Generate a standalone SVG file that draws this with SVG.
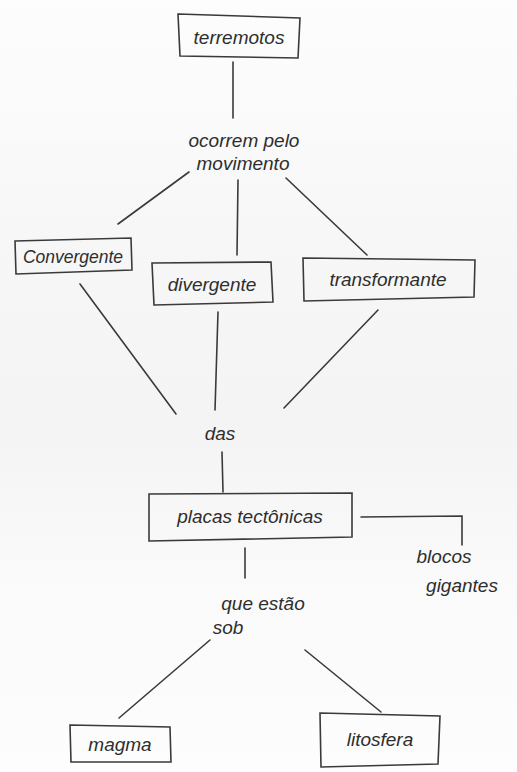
<svg xmlns="http://www.w3.org/2000/svg" width="517" height="772" viewBox="0 0 517 772">
<defs>
<linearGradient id="bg" x1="0" y1="0" x2="0" y2="1">
<stop offset="0" stop-color="#fdfdfd"/>
<stop offset="0.3" stop-color="#f7f7f7"/>
<stop offset="0.55" stop-color="#f4f4f4"/>
<stop offset="0.75" stop-color="#fafafa"/>
<stop offset="1" stop-color="#fdfdfd"/>
</linearGradient>
</defs>
<style>
.box{fill:none;stroke:#3a3a3a;stroke-width:1.6}
.ln{fill:none;stroke:#3a3a3a;stroke-width:1.6;stroke-linecap:round}
text{font-family:"Liberation Sans","DejaVu Sans",sans-serif;font-size:19px;fill:#2e2e2e;font-style:italic}
.t{text-anchor:middle}
</style>
<rect width="517" height="772" fill="url(#bg)"/>
<g id="connectors">
<path class="ln" d="M233 62 L233 118"/>
<path class="ln" d="M189 172 L118 224"/>
<path class="ln" d="M238 180 L237 255"/>
<path class="ln" d="M286 178 L367 255"/>
<path class="ln" d="M80 284 L176 414"/>
<path class="ln" d="M218 312 L215 410"/>
<path class="ln" d="M378 310 L284 408"/>
<path class="ln" d="M222 452 L223 492"/>
<path class="ln" d="M245 548 L245 578"/>
<path class="ln" d="M361 517 L462 516 L462 545"/>
<path class="ln" d="M210 640 L119 718"/>
<path class="ln" d="M305 650 L381 712"/>
</g>
<g id="terremotos">
<path class="box" d="M178 14 L300 18 L298 58 L180 56 Z"/>
<text class="t" x="239" y="44">terremotos</text>
</g>
<g id="ocorrem">
<text class="t" x="244" y="147">ocorrem pelo</text>
<text class="t" x="243" y="170">movimento</text>
</g>
<g id="convergente">
<path class="box" d="M15 241 L131 238 L132 270 L16 274 Z"/>
<text class="t" x="73" y="263" style="font-size:17.5px">Convergente</text>
</g>
<g id="divergente">
<path class="box" d="M152 263 L271 262 L273 302 L154 305 Z"/>
<text class="t" x="212" y="291">divergente</text>
</g>
<g id="transformante">
<path class="box" d="M303 258 L475 260 L474 297 L304 301 Z"/>
<text class="t" x="388" y="286">transformante</text>
</g>
<g id="das">
<text class="t" x="220" y="440">das</text>
</g>
<g id="placas">
<path class="box" d="M149 494 L352 493 L352 537 L149 541 Z"/>
<text class="t" x="250" y="523">placas tectônicas</text>
</g>
<g id="blocos">
<text class="t" x="444" y="563">blocos</text>
<text class="t" x="462" y="592">gigantes</text>
</g>
<g id="que">
<text class="t" x="263" y="610">que estão</text>
<text class="t" x="228" y="634">sob</text>
</g>
<g id="magma">
<path class="box" d="M70 725 L170 727 L171 762 L71 762 Z"/>
<text class="t" x="120" y="751">magma</text>
</g>
<g id="litosfera">
<path class="box" d="M320 713 L440 716 L438 764 L321 767 Z"/>
<text class="t" x="380" y="746">litosfera</text>
</g>
</svg>
